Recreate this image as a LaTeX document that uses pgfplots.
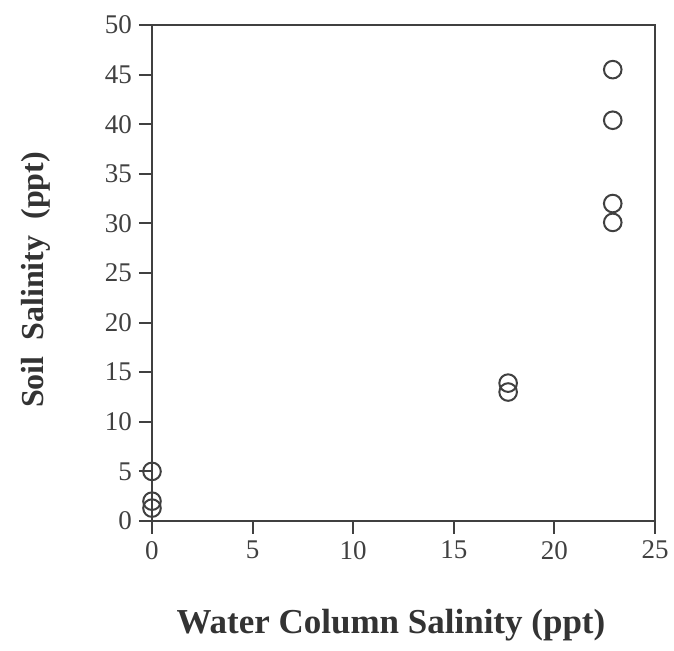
\documentclass[border=0pt]{standalone}
\usepackage{fontspec}
\setmainfont{Liberation Serif}
\usepackage{pgfplots}
\pgfplotsset{compat=1.18}
\begin{document}
\begin{tikzpicture}
\begin{axis}[
  scale only axis,
  width=251.5pt, height=248pt,
  xmin=0, xmax=25, ymin=0, ymax=50,
  xtick={0,5,...,25}, ytick={0,5,...,50},
  axis x line*=bottom, axis y line*=left,
  axis line style={black!75, line width=1pt, -},
  tick align=outside, major tick length=6.5pt,
  tick style={black!75, line width=1pt},
  /pgf/number format/assume math mode=true,
  ticklabel style={font=\fontsize{13.5}{15}\selectfont, text=black!75},
  xlabel={Water Column Salinity (ppt)},
  ylabel={Soil \ Salinity \ (ppt)},
  xlabel style={font=\fontsize{17.5}{19}\selectfont\bfseries, text=black!80, at={(rel axis cs:0.475,0)}, anchor=center, yshift=-52pt},
  ylabel style={font=\fontsize{16}{18}\selectfont\bfseries, text=black!80, at={(rel axis cs:0,0.486)}, anchor=center, yshift=58pt},
  clip=false,
]
\addplot[only marks, mark=o, mark size=4.4pt, mark options={line width=1pt, draw=black!75}]
coordinates {
(0,5.0) (0,2.0) (0,1.3)
(17.7,13.9) (17.7,13.0)
(22.9,45.5) (22.9,40.4) (22.9,32.0) (22.9,30.1)
};
\draw[black!75, line width=1pt] (rel axis cs:0,1) -- (rel axis cs:1,1) -- (rel axis cs:1,0);
\end{axis}
\pgfresetboundingbox
\path[use as bounding box] ([xshift=-76pt,yshift=-65pt]current axis.south west) rectangle ([xshift=9.5pt,yshift=12.5pt]current axis.north east);
\end{tikzpicture}
\end{document}
